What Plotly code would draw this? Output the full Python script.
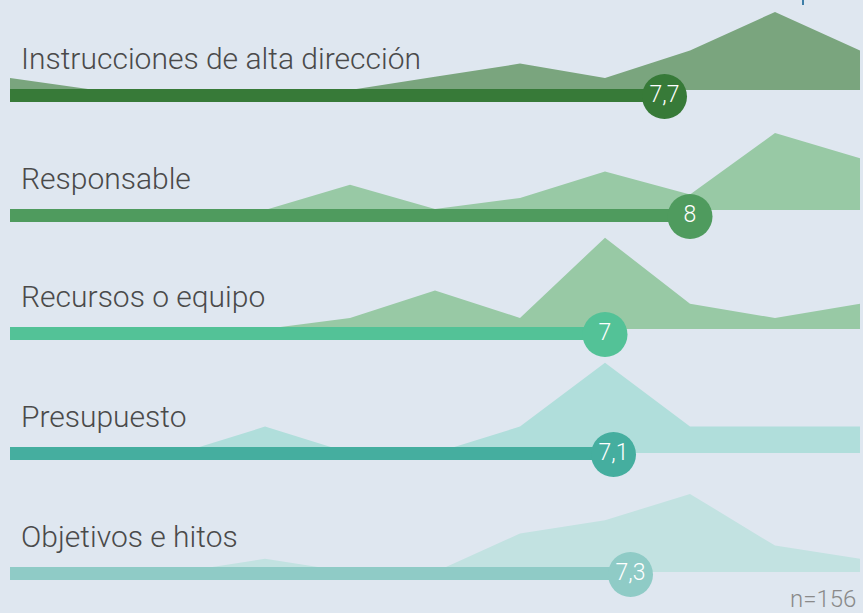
import plotly.graph_objects as go

# ---- data ----
categories = ["Instrucciones de alta dirección", "Responsable", "Recursos o equipo",
              "Presupuesto", "Objetivos e hitos"]
means = [7.7, 8.0, 7.0, 7.1, 7.3]
mean_labels = ["7,7", "8", "7", "7,1", "7,3"]
scores = list(range(11))  # 0..10
dist_instrucciones = [5.5, 0, 0, 0, 0, 6, 12, 5.5, 18, 35.5, 18]
dist_responsable = [0, 0, 0, 0, 11.5, 0.5, 5.5, 17.5, 7, 35, 23.5]
dist_recursos = [0, 0, 0, 0, 5, 17.5, 5, 41.5, 11.5, 5, 11.5]
dist_presupuesto = [0, 0, 0, 12, 0, 0, 12, 41, 12, 12, 12]
dist_objetivos = [0, 0, 0, 6, 0, 0, 17.5, 23.5, 35.5, 12, 6]
distributions = [dist_instrucciones, dist_responsable, dist_recursos,
                 dist_presupuesto, dist_objetivos]
n_label = "n=156"

# ---- style / layout ----
W, H = 863, 613
PX_PER_UNIT = 85.0          # pixels per score point
X0_PX = 10.0                # pixel position of score 0
PX_PER_PCT = 2.2            # vertical pixels per percent
bar_top = [89, 209, 327, 447, 567]
area_base = [90, 210, 329, 453, 572]
bar_thick = 13
area_colors = ["#7aa57e", "#98c9a5", "#98c9a5", "#b0dedb", "#c2e2e1"]
bar_colors = ["#377a38", "#4f9b5e", "#53c297", "#45ae9f", "#8fcbc6"]
bg = "#dfe7f0"
label_font = "Roboto Light, Roboto"

fig = go.Figure()

for k in range(len(categories)):
    d = distributions[k]
    ys = [area_base[k] - v * PX_PER_PCT for v in d]
    xs = scores + [scores[-1], scores[0]]
    ys = ys + [area_base[k], area_base[k]]
    fig.add_trace(go.Scatter(x=xs, y=ys, fill="toself", fillcolor=area_colors[k],
                             mode="lines", line=dict(width=0, color=area_colors[k]),
                             hoverinfo="skip", showlegend=False))

for k in range(len(categories)):
    top, bot = bar_top[k], bar_top[k] + bar_thick
    yc = (top + bot) / 2
    fig.add_trace(go.Scatter(x=[0, means[k], means[k], 0], y=[top, top, bot, bot],
                             fill="toself", fillcolor=bar_colors[k], mode="lines",
                             line=dict(width=0, color=bar_colors[k]),
                             hoverinfo="skip", showlegend=False))
    fig.add_trace(go.Scatter(x=[means[k]], y=[yc + 1], mode="markers+text",
                             marker=dict(size=45, color=bar_colors[k], line=dict(width=0)),
                             text=[mean_labels[k]], textposition="middle center",
                             textfont=dict(color="white", size=23, family=label_font, weight=300),
                             hoverinfo="skip", showlegend=False))
    fig.add_annotation(x=19 / W, xref="paper", y=bar_top[k] - 31, yref="y",
                       text=categories[k], showarrow=False, xanchor="left", yanchor="middle",
                       font=dict(size=30, color="#4a4a4a", family=label_font, weight=300))

fig.add_annotation(x=858 / W, xref="paper", y=599, yref="y", text=n_label, showarrow=False,
                   xanchor="right", yanchor="middle",
                   font=dict(size=24, color="#8a8a8a", family=label_font, weight=300))

# tiny blue mark at top edge
fig.add_shape(type="line", xref="paper", yref="y", x0=803 / W, x1=803 / W, y0=0, y1=5,
              line=dict(color="#3f7fa8", width=2))

fig.update_layout(
    width=W, height=H, margin=dict(l=0, r=0, t=0, b=0),
    paper_bgcolor=bg, plot_bgcolor=bg,
    xaxis=dict(range=[-X0_PX / PX_PER_UNIT, (W - X0_PX) / PX_PER_UNIT], visible=False, fixedrange=True),
    yaxis=dict(range=[H, 0], visible=False, fixedrange=True),
    showlegend=False,
)

fig.write_html("out.html")
